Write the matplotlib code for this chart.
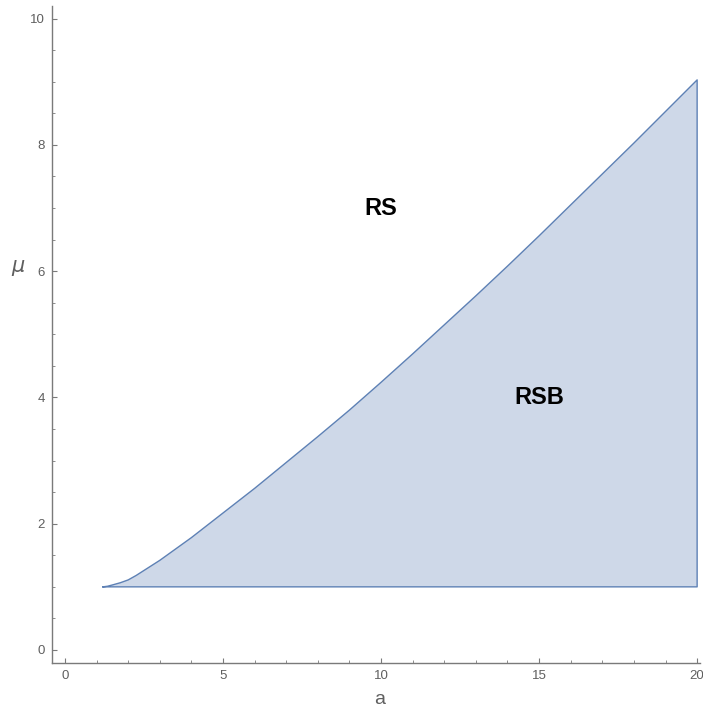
import numpy as np
import matplotlib
matplotlib.use("Agg")
import matplotlib.pyplot as plt
from matplotlib.ticker import MultipleLocator

# boundary curve between RS and RSB phases
a_curve = [1.2, 1.35, 1.5, 1.75, 2.0, 2.25, 2.5, 3.0, 3.5, 4.0, 5.0, 6.0, 7.0,
           8.0, 9.0, 10.0, 11.0, 12.0, 13.0, 14.0, 15.0, 16.0, 17.0, 18.0,
           19.0, 20.0]
mu_curve = [1.0, 1.01, 1.03, 1.065, 1.11, 1.18, 1.26, 1.42, 1.60, 1.78, 2.17,
            2.56, 2.97, 3.38, 3.80, 4.24, 4.69, 5.15, 5.61, 6.08, 6.56, 7.05,
            7.54, 8.03, 8.53, 9.03]
mu_floor = 1.0

labels = ["RS", "RSB"]
label_pos = [(10, 7), (15, 4)]

blue = "#5E81B5"
gray = "#7a7a7a"

plt.rcParams['font.family'] = ['Liberation Sans', 'DejaVu Sans']

fig = plt.figure(figsize=(7.03, 7.09), dpi=100)
ax = fig.add_axes([0.074, 0.0649, 0.9217, 0.9266])

# closed region: curve up to a=20, down the right edge, back along mu=1
px = list(a_curve) + [a_curve[-1], a_curve[0]]
py = list(mu_curve) + [mu_floor, mu_floor]
ax.fill(px, py, facecolor=blue, alpha=0.3, edgecolor="none")
ax.plot(px, py, color=blue, lw=1.0)

for txt, (x, y) in zip(labels, label_pos):
    ax.text(x, y, txt, fontsize=17, fontweight="bold", ha="center", va="center")

ax.set_xlim(-0.41, 20.09)
ax.set_ylim(-0.206, 10.2)

for s in ["top", "right"]:
    ax.spines[s].set_visible(False)
for s in ["left", "bottom"]:
    ax.spines[s].set_color(gray)
    ax.spines[s].set_linewidth(1.0)

ax.set_xticks([0, 5, 10, 15, 20])
ax.set_yticks([0, 2, 4, 6, 8, 10])
ax.xaxis.set_minor_locator(MultipleLocator(1))
ax.yaxis.set_minor_locator(MultipleLocator(0.5))
ax.tick_params(which="major", direction="in", length=3.5, width=0.8, color=gray,
               labelcolor="#5f5f5f", labelsize=9.5, pad=5)
ax.tick_params(which="minor", direction="in", length=2, width=0.6, color=gray)

ax.set_xlabel("a", fontsize=14, color="#5f5f5f")
ax.xaxis.set_label_coords(0.506, -0.042)
ax.set_ylabel(r"$\mu$", fontsize=15, color="#5f5f5f", rotation=0)
ax.yaxis.set_label_coords(-0.052, 0.586)

fig.savefig("out.png", dpi=100)
